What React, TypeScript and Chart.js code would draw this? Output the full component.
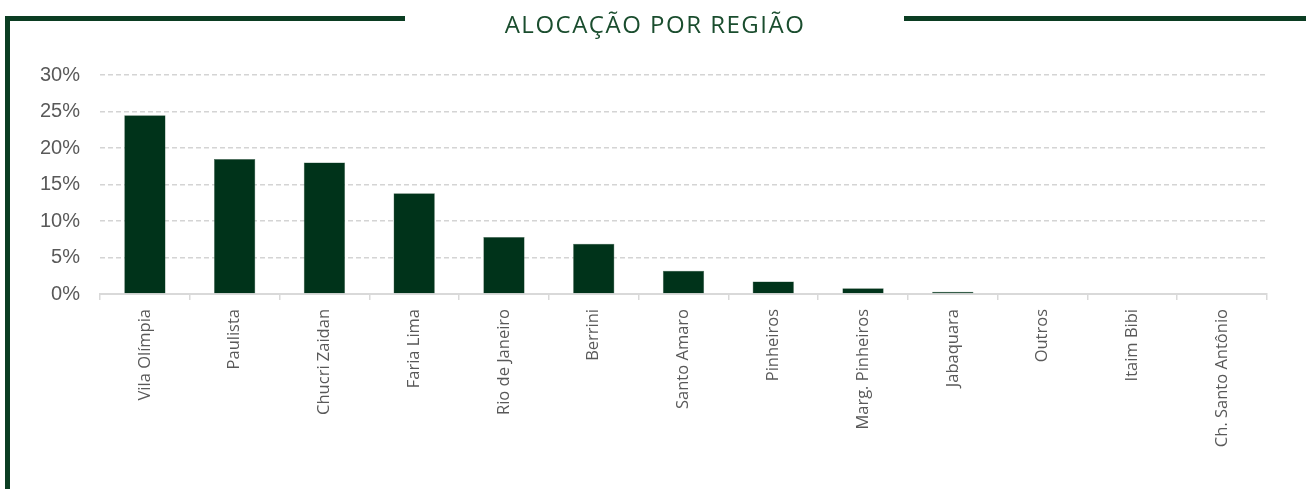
import React, { useEffect, useRef } from "react";
import { Chart, registerables } from "chart.js";

Chart.register(...registerables);

const TITLE = "ALOCAÇÃO POR REGIÃO";
const categories = [
  "Vila Olímpia",
  "Paulista",
  "Chucri Zaidan",
  "Faria Lima",
  "Rio de Janeiro",
  "Berrini",
  "Santo Amaro",
  "Pinheiros",
  "Marg. Pinheiros",
  "Jabaquara",
  "Outros",
  "Itaim Bibi",
  "Ch. Santo Antônio",
];
const allocation = [24.5, 18.5, 18.0, 13.8, 7.8, 6.9, 3.2, 1.7, 0.8, 0.3, 0, 0, 0];
const yTicks = [0, 5, 10, 15, 20, 25, 30];

const GREEN = "#0b3d22";
const BAR = "#00331a";

const framePlugin = {
  id: "frame",
  beforeDraw(chart: any) {
    const ctx = chart.ctx;
    ctx.save();
    ctx.fillStyle = "#ffffff";
    ctx.fillRect(0, 0, chart.width, chart.height);
    ctx.fillStyle = GREEN;
    ctx.fillRect(5, 16, 400, 5);
    ctx.fillRect(904, 16, 402, 5);
    ctx.fillRect(5, 16, 5, chart.height - 16);
    ctx.fillStyle = "#1a4d2e";
    ctx.font = "24px 'Open Sans'";
    (ctx as any).letterSpacing = "1.5px";
    ctx.textAlign = "center";
    ctx.textBaseline = "middle";
    ctx.fillText(TITLE, 655, 26);
    ctx.restore();
  },
};

export default function App() {
  const ref = useRef<HTMLCanvasElement>(null);
  useEffect(() => {
    document.body.style.margin = "0";
    const chart = new Chart(ref.current!, {
      type: "bar",
      data: {
        labels: categories,
        datasets: [
          {
            data: allocation,
            backgroundColor: BAR,
            borderColor: "#4a6b57",
            borderWidth: 0.5,
            barPercentage: 0.46,
            categoryPercentage: 1,
          },
        ],
      },
      options: {
        animation: false,
        responsive: false,
        layout: { padding: { left: 10, right: 39, top: 75, bottom: 0 } },
        plugins: { legend: { display: false }, tooltip: { enabled: false }, title: { display: false } },
        scales: {
          x: {
            grid: {
              offset: true,
              drawOnChartArea: false,
              drawTicks: true,
              tickLength: 6,
              color: "#d9d9d9",
              lineWidth: 1.5,
            },
            border: { color: "#d9d9d9", width: 2 },
            ticks: {
              minRotation: 90,
              maxRotation: 90,
              autoSkip: false,
              color: "#595959",
              padding: 9,
              font: { family: "'Open Sans'", size: 16.5 },
            },
            afterFit(scale: any) {
              scale.height = 195;
            },
          },
          y: {
            min: 0,
            max: 30,
            afterBuildTicks(scale: any) {
              scale.ticks = yTicks.map((v) => ({ value: v }));
            },
            grid: {
              drawTicks: false,
              color: "#d4d4d4",
              lineWidth: 1.5,
            },
            border: { display: false, dash: [5, 3] },
            ticks: {
              color: "#595959",
              padding: 20,
              font: { family: "'Liberation Sans'", size: 20 },
              callback: (v: any) => v + "%",
            },
            afterFit(scale: any) {
              scale.width = 90;
            },
          },
        },
      },
      plugins: [framePlugin],
    });
    return () => chart.destroy();
  }, []);
  return <canvas ref={ref} width={1306} height={489} style={{ display: "block" }} />;
}
